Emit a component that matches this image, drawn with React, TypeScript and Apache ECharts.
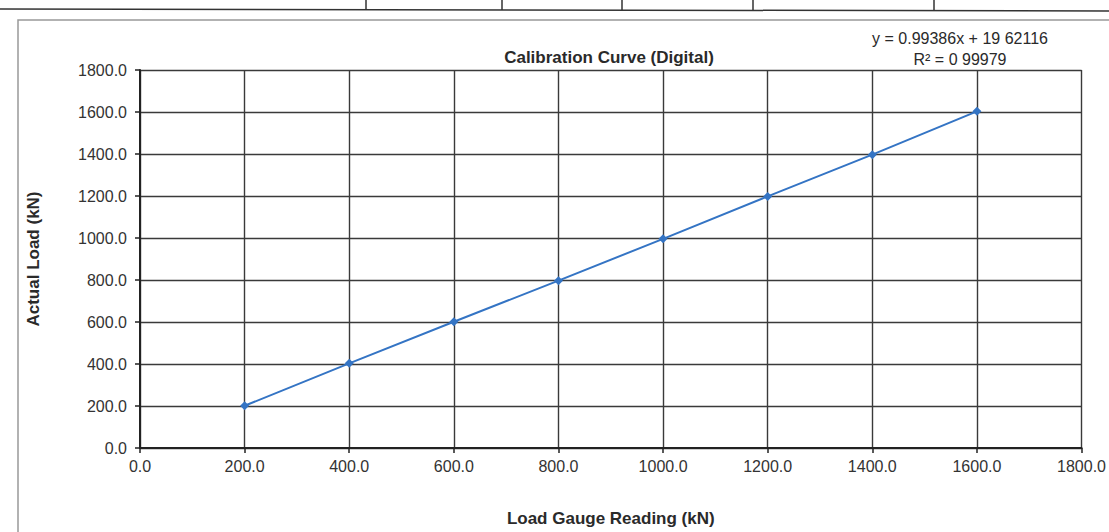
import React, { useEffect, useRef } from "react";
import * as echarts from "echarts";

const gaugeReading: number[] = [200, 400, 600, 800, 1000, 1200, 1400, 1600];
const actualLoad: number[] = [201, 403, 601, 797, 996, 1198, 1397, 1603];
const chartTitle = "Calibration Curve (Digital)";
const equationLines: string[] = ["y = 0.99386x + 19 62116", "R² = 0 99979"];
const xAxisName = "Load Gauge Reading (kN)";
const yAxisName = "Actual Load (kN)";
const tableDividers: number[] = [366, 502, 622, 753, 934];

export default function App() {
  const ref = useRef<HTMLDivElement>(null);
  useEffect(() => {
    if (!ref.current) return;
    const chart = echarts.init(ref.current, null, { renderer: "svg" });
    const font = "'Liberation Sans', Arial, sans-serif";
    chart.setOption({
      animation: false,
      backgroundColor: "#ffffff",
      title: {
        text: chartTitle,
        left: 604,
        top: 44,
        textAlign: "center",
        textStyle: { fontFamily: font, fontSize: 17, fontWeight: "bold", color: "#2a2a2a" },
      },
      grid: { left: 140, right: 24, top: 70, bottom: 82 },
      xAxis: {
        type: "value",
        min: 0,
        max: 1800,
        interval: 200,
        name: xAxisName,
        nameLocation: "middle",
        nameGap: 62,
        nameTextStyle: { fontFamily: font, fontSize: 17, fontWeight: "bold", color: "#2a2a2a" },
        axisLine: { show: true, lineStyle: { color: "#222", width: 2 } },
        axisTick: { show: true, length: 5, lineStyle: { color: "#222", width: 1.5 } },
        axisLabel: {
          fontFamily: font,
          fontSize: 16,
          color: "#333",
          margin: 10,
          formatter: (v: number) => v.toFixed(1),
        },
        splitLine: { show: true, lineStyle: { color: "#3a3a3a", width: 1.4 } },
      },
      yAxis: {
        type: "value",
        min: 0,
        max: 1800,
        interval: 200,
        name: yAxisName,
        nameLocation: "middle",
        nameGap: 98,
        nameTextStyle: { fontFamily: font, fontSize: 17, fontWeight: "bold", color: "#2a2a2a" },
        axisLine: { show: true, lineStyle: { color: "#222", width: 2 } },
        axisTick: { show: true, length: 5, lineStyle: { color: "#222", width: 1.5 } },
        axisLabel: {
          fontFamily: font,
          fontSize: 16,
          color: "#333",
          margin: 13,
          formatter: (v: number) => v.toFixed(1),
        },
        splitLine: { show: true, lineStyle: { color: "#3a3a3a", width: 1.4 } },
      },
      series: [
        {
          type: "line",
          data: gaugeReading.map((x, i) => [x, actualLoad[i]]),
          symbol: "diamond",
          symbolSize: 9,
          lineStyle: { color: "#3474c4", width: 2 },
          itemStyle: { color: "#3474c4" },
        },
      ],
      graphic: [
        {
          type: "rect",
          shape: { x: 18, y: 20, width: 1100, height: 520 },
          style: { fill: "none", stroke: "#999", lineWidth: 1.5 },
        },
        {
          type: "line",
          shape: { x1: 0, y1: 9, x2: 1109, y2: 11 },
          style: { stroke: "#333", lineWidth: 1.5 },
        },
        ...tableDividers.map((x) => ({
          type: "line",
          shape: { x1: x, y1: 0, x2: x, y2: 10 },
          style: { stroke: "#333", lineWidth: 1.5 },
        })),
        {
          type: "text",
          x: 960,
          y: 28,
          style: {
            text: equationLines.join("\n"),
            fontFamily: font,
            fontSize: 16,
            lineHeight: 21,
            fill: "#2a2a2a",
            align: "center",
          },
        },
      ],
    });
    return () => chart.dispose();
  }, []);
  return (
    <div
      ref={ref}
      style={{ position: "absolute", left: 0, top: 0, width: 1109, height: 532 }}
    />
  );
}
